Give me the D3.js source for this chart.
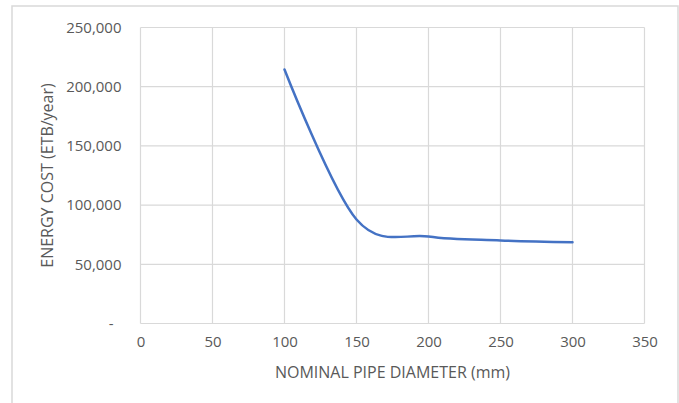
<!DOCTYPE html>
<html>
<head>
<meta charset="utf-8">
<script src="https://cdn.jsdelivr.net/npm/d3@7"></script>
<style>
  html, body { margin: 0; padding: 0; background: #fff; }
  svg { display: block; }
  text { font-family: "Open Sans", "Liberation Sans", sans-serif; fill: #595959; }
</style>
</head>
<body>
<svg id="chart" width="679" height="403"></svg>
<script>
// Data
const diameters = [100, 150, 200, 250, 300];
const energyCost = [214500, 87800, 73400, 70200, 68700];
const xTicks = [0, 50, 100, 150, 200, 250, 300, 350];
const yTicks = [0, 50000, 100000, 150000, 200000, 250000];
const xTitle = "NOMINAL PIPE DIAMETER (mm)";
const yTitle = "ENERGY COST (ETB/year)";

(function () {
const svg = d3.select("#chart");
const mLeft = 140.5, mRight = 644.5, mTop = 27.5, mBottom = 323.5;

// chart border
svg.append("rect")
  .attr("x", 12).attr("y", 6).attr("width", 666).attr("height", 420)
  .attr("fill", "#fff").attr("stroke", "#d9d9d9").attr("stroke-width", 1.5);

const x = d3.scaleLinear().domain([0, 350]).range([mLeft, mRight]);
const y = d3.scaleLinear().domain([0, 250000]).range([mBottom, mTop]);

// gridlines
const grid = svg.append("g").attr("stroke", "#d9d9d9").attr("stroke-width", 1.2);
grid.selectAll("line.v").data(xTicks).enter().append("line")
  .attr("x1", d => x(d)).attr("x2", d => x(d))
  .attr("y1", mTop).attr("y2", mBottom);
grid.selectAll("line.h").data(yTicks).enter().append("line")
  .attr("x1", mLeft).attr("x2", mRight)
  .attr("y1", d => y(d)).attr("y2", d => y(d));

// axes (labels only)
const fmt = d => d === 0 ? "-" : d3.format(",")(d);
const yAxis = d3.axisLeft(y).tickValues(yTicks).tickFormat(fmt).tickSize(0).tickPadding(19);
const gy = svg.append("g").attr("transform", `translate(${mLeft},0)`).call(yAxis);
gy.select(".domain").remove();
gy.selectAll("text").style("font-size", "15px").attr("fill", "#595959")
  .attr("dx", d => d === 0 ? -8 : 0);

const xAxis = d3.axisBottom(x).tickValues(xTicks).tickFormat(d3.format("d")).tickSize(0).tickPadding(13);
const gx = svg.append("g").attr("transform", `translate(0,${mBottom})`).call(xAxis);
gx.select(".domain").remove();
gx.selectAll("text").style("font-size", "15px").attr("fill", "#595959");

// axis titles
svg.append("text")
  .attr("x", (mLeft + mRight) / 2).attr("y", 378)
  .attr("text-anchor", "middle")
  .style("font-size", "16px")
  .text(xTitle);

svg.append("text")
  .attr("transform", `translate(53,${(mTop + mBottom) / 2}) rotate(-90)`)
  .attr("text-anchor", "middle")
  .style("font-size", "16px")
  .text(yTitle);

// line
const data = diameters.map((d, i) => ({ d, v: energyCost[i] }));
const line = d3.line()
  .x(p => x(p.d)).y(p => y(p.v))
  .curve(d3.curveCardinal.tension(0));
svg.append("path")
  .datum(data)
  .attr("d", line)
  .attr("fill", "none")
  .attr("stroke", "#4472C4")
  .attr("stroke-width", 2.5)
  .attr("stroke-linecap", "round");
})();
</script>
</body>
</html>
